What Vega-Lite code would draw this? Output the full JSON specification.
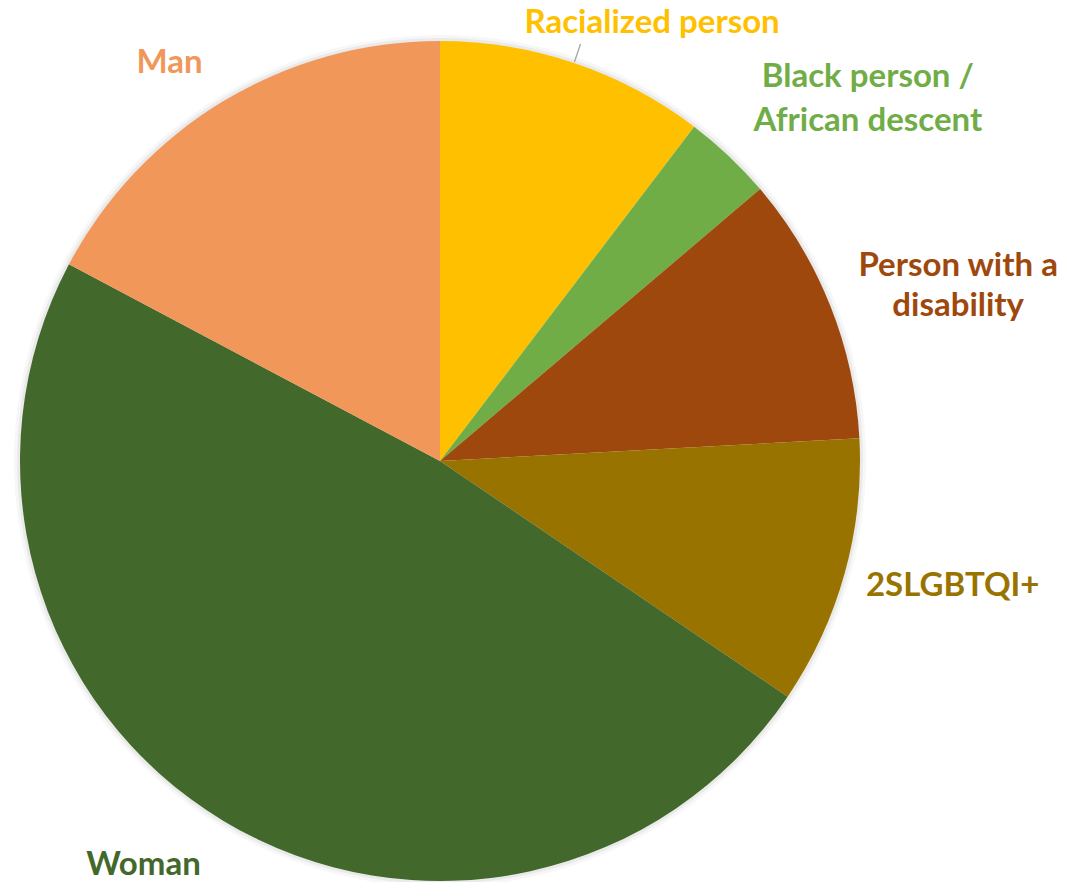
{
  "$schema": "https://vega.github.io/schema/vega-lite/v6.json",
  "width": 880,
  "height": 842,
  "autosize": {"type": "none"},
  "padding": {"left": 0, "top": 40, "right": 187, "bottom": 0},
  "background": "white",
  "config": {"view": {"stroke": null}},
  "data": {
    "values": [
      {"label": "Racialized person", "value": 3},
      {"label": "Black person /\nAfrican descent", "value": 1},
      {"label": "Person with a\ndisability", "value": 3},
      {"label": "2SLGBTQI+", "value": 3},
      {"label": "Woman", "value": 14},
      {"label": "Man", "value": 5}
    ]
  },
  "transform": [
    {"window": [{"op": "sum", "field": "value", "as": "cum"}], "frame": [null, 0]},
    {"calculate": "datum.cum - datum.value / 2", "as": "mid"}
  ],
  "encoding": {
    "color": {
      "field": "label",
      "type": "nominal",
      "legend": null,
      "scale": {
        "domain": ["Racialized person", "Black person /\nAfrican descent", "Person with a\ndisability", "2SLGBTQI+", "Woman", "Man"],
        "range": ["#FFC000", "#70AD47", "#9E480E", "#997300", "#43682B", "#F1975A"]
      }
    }
  },
  "layer": [
    {
      "mark": {"type": "arc", "outerRadius": 426, "fill": "#000000", "opacity": 0.03},
      "encoding": {
        "theta": {"field": "value", "type": "quantitative", "stack": true},
        "order": {"field": "cum", "type": "quantitative"},
        "color": {"value": "#000000"}
      }
    },
    {
      "mark": {"type": "arc", "outerRadius": 423, "fill": "#000000", "opacity": 0.05},
      "encoding": {
        "theta": {"field": "value", "type": "quantitative", "stack": true},
        "order": {"field": "cum", "type": "quantitative"},
        "color": {"value": "#000000"}
      }
    },
    {
      "mark": {"type": "arc", "outerRadius": 420},
      "encoding": {
        "theta": {"field": "value", "type": "quantitative", "stack": true},
        "order": {"field": "cum", "type": "quantitative"}
      }
    },
    {
      "transform": [{"filter": "datum.label === 'Racialized person'"}],
      "mark": {"type": "arc", "radius": 440, "radius2": 421, "stroke": "#A6A6A6", "strokeWidth": 1.3, "fill": null},
      "encoding": {
        "theta": {"field": "mid", "type": "quantitative"},
        "theta2": {"field": "mid"},
        "color": {"value": "#A6A6A6"}
      }
    },
    {
      "transform": [{"filter": "datum.label === 'Racialized person'"}],
      "mark": {"type": "text", "radius": 420, "dx": 78, "dy": -30, "align": "center", "baseline": "alphabetic", "font": "Lato", "fontSize": 33, "fontWeight": "bold", "lineHeight": 43, "lineBreak": "\n"},
      "encoding": {"theta": {"field": "mid", "type": "quantitative"}, "text": {"field": "label"}}
    },
    {
      "transform": [{"filter": "datum.label === 'Black person /\\nAfrican descent'"}],
      "mark": {"type": "text", "radius": 420, "dx": 139, "dy": -69, "align": "center", "baseline": "alphabetic", "font": "Lato", "fontSize": 33, "fontWeight": "bold", "lineHeight": 44, "lineBreak": "\n"},
      "encoding": {"theta": {"field": "mid", "type": "quantitative"}, "text": {"field": "label"}}
    },
    {
      "transform": [{"filter": "datum.label === 'Person with a\\ndisability'"}],
      "mark": {"type": "text", "radius": 420, "dx": 128, "dy": -30, "align": "center", "baseline": "alphabetic", "font": "Lato", "fontSize": 33, "fontWeight": "bold", "lineHeight": 40, "lineBreak": "\n"},
      "encoding": {"theta": {"field": "mid", "type": "quantitative"}, "text": {"field": "label"}}
    },
    {
      "transform": [{"filter": "datum.label === '2SLGBTQI+'"}],
      "mark": {"type": "text", "radius": 420, "dx": 108, "dy": 23, "align": "center", "baseline": "alphabetic", "font": "Lato", "fontSize": 33, "fontWeight": "bold", "lineHeight": 43, "lineBreak": "\n"},
      "encoding": {"theta": {"field": "mid", "type": "quantitative"}, "text": {"field": "label"}}
    },
    {
      "transform": [{"filter": "datum.label === 'Woman'"}],
      "mark": {"type": "text", "radius": 420, "dx": -80, "dy": 54, "align": "center", "baseline": "alphabetic", "font": "Lato", "fontSize": 33, "fontWeight": "bold", "lineHeight": 43, "lineBreak": "\n"},
      "encoding": {"theta": {"field": "mid", "type": "quantitative"}, "text": {"field": "label"}}
    },
    {
      "transform": [{"filter": "datum.label === 'Man'"}],
      "mark": {"type": "text", "radius": 420, "dx": -54, "dy": -28, "align": "center", "baseline": "alphabetic", "font": "Lato", "fontSize": 33, "fontWeight": "bold", "lineHeight": 43, "lineBreak": "\n"},
      "encoding": {"theta": {"field": "mid", "type": "quantitative"}, "text": {"field": "label"}}
    }
  ]
}
